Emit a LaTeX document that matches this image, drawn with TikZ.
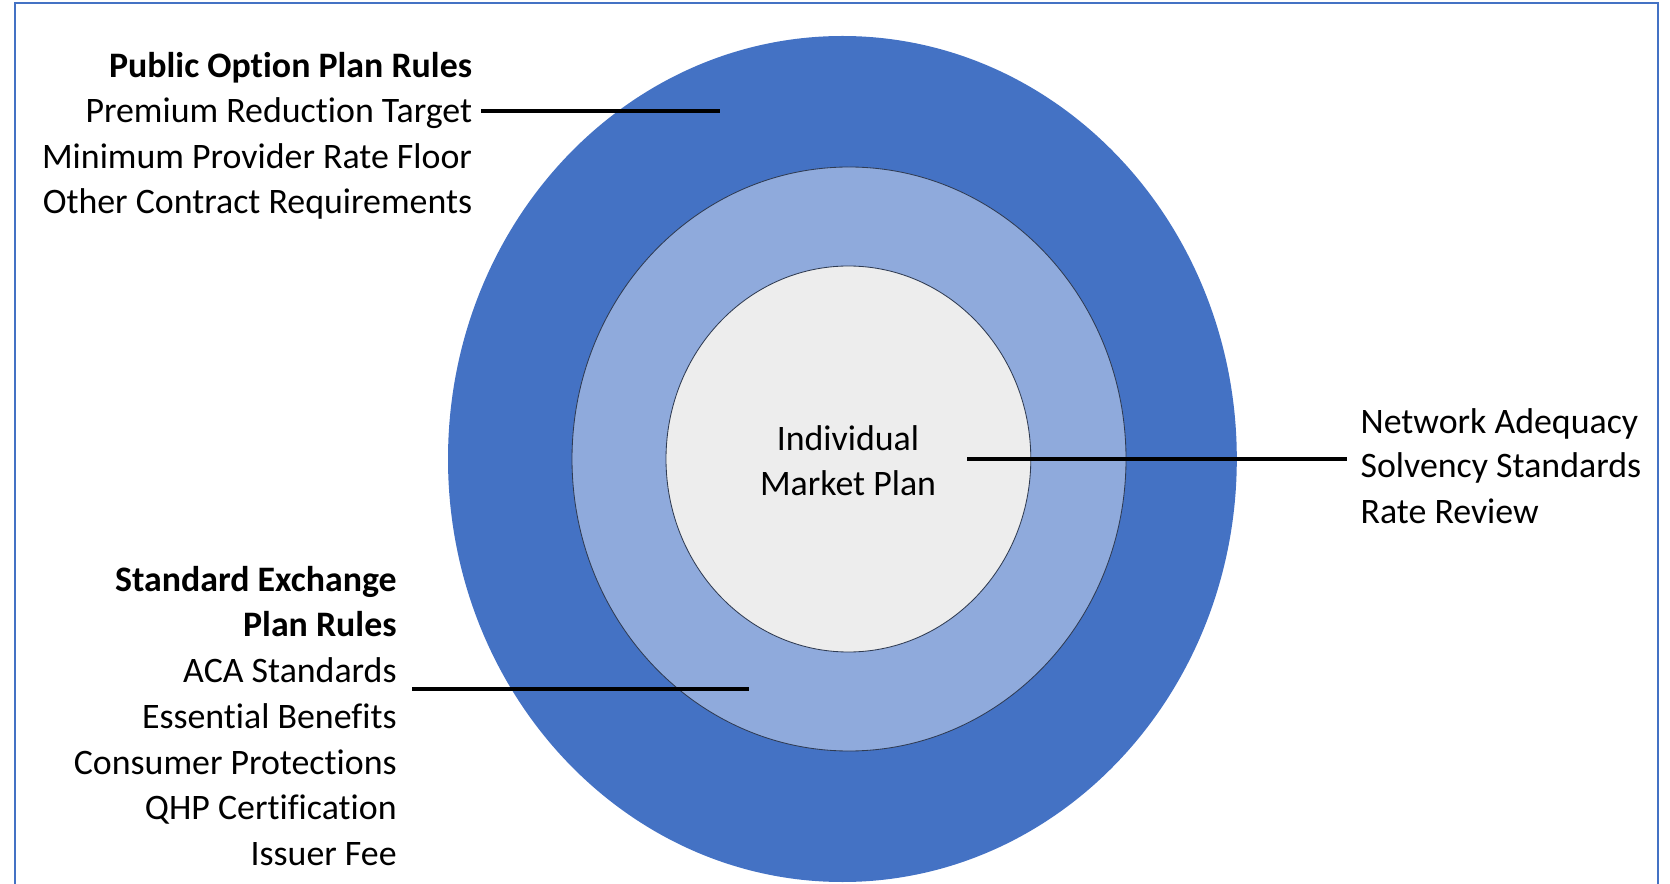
\documentclass[tikz,border=0pt]{standalone}
\usepackage{fontspec}
\setmainfont{Carlito}[Ligatures=CommonOff]
\usetikzlibrary{positioning}
\definecolor{ringdark}{HTML}{4472C4}
\definecolor{ringlight}{HTML}{8FAADC}
\definecolor{corefill}{HTML}{EDEDED}
\definecolor{ringedge}{HTML}{2F3B52}

\begin{document}
\begin{tikzpicture}[
  rowtext/.style={font=\fontsize{25.5}{32}\selectfont, inner xsep=0.62em, inner ysep=0.33em},
  headtext/.style={rowtext, font=\fontsize{25.5}{32}\selectfont\bfseries},
  ring/.style={draw=ringedge, line width=0.6pt},
  leader/.style={line width=2.9pt, black}
]
  \useasboundingbox (0,0) rectangle (41.75,22.075);
  \begin{scope}
    \clip (0,0) rectangle (41.75,22.075);
    \draw[ringdark, line width=1.3pt] (0.375,-1) -- (0.375,22.0) -- (41.45,22.0) -- (41.45,-1);
  \end{scope}

  % rings, outside in
  \fill[ringdark] (21.06,10.6) ellipse [x radius=9.86, y radius=10.575];
  \filldraw[ring, fill=ringlight] (21.225,10.6) ellipse [x radius=6.925, y radius=7.3];
  \filldraw[ring, fill=corefill] (21.21,10.6) ellipse [x radius=4.56, y radius=4.825];

  \node[rowtext, align=center] (indiv) at (21.2,10.56) {Individual\\Market Plan};

  % public option rules
  \node[headtext, anchor=mid east] (pubHead) at (12.025,20.22) {Public Option Plan Rules};
  \node[rowtext, anchor=mid east] (premium) at (12.025,19.09) {Premium Reduction Target};
  \node[rowtext, anchor=mid east] (rateFloor) at (12.025,17.95) {Minimum Provider Rate Floor};
  \node[rowtext, anchor=mid east] (contractReq) at (12.025,16.82) {Other Contract Requirements};

  % standard exchange rules
  \node[headtext, anchor=mid east] (stdHead) at (10.14,7.365) {Standard Exchange};
  \node[headtext, anchor=mid east] (stdHeadB) at (10.14,6.24) {Plan Rules};
  \node[rowtext, anchor=mid east] (aca) at (10.14,5.09) {ACA Standards};
  \node[rowtext, anchor=mid east] (essBen) at (10.14,3.94) {Essential Benefits};
  \node[rowtext, anchor=mid east] (consumer) at (10.14,2.79) {Consumer Protections};
  \node[rowtext, anchor=mid east] (qhp) at (10.14,1.665) {QHP Certification};
  \node[rowtext, anchor=mid east] (issuerFee) at (10.14,0.515) {Issuer Fee};

  % individual market rules
  \node[rowtext, anchor=mid west] (network) at (33.79,11.315) {Network Adequacy};
  \node[rowtext, anchor=mid west] (solvency) at (33.79,10.215) {Solvency Standards};
  \node[rowtext, anchor=mid west] (rateReview) at (33.79,9.065) {Rate Review};

  \coordinate (pubEnd) at (18.0,19.3);
  \coordinate (stdStart) at (10.3,4.85);
  \coordinate (stdEnd) at (18.725,4.85);
  \coordinate (coreStart) at (24.175,10.6);
  \coordinate (coreEnd) at (33.675,10.6);

  \draw[leader] (premium.east |- pubEnd) -- (pubEnd);
  \draw[leader] (stdStart) -- (stdEnd);
  \draw[leader] (coreStart) -- (coreEnd);
\end{tikzpicture}
\end{document}
